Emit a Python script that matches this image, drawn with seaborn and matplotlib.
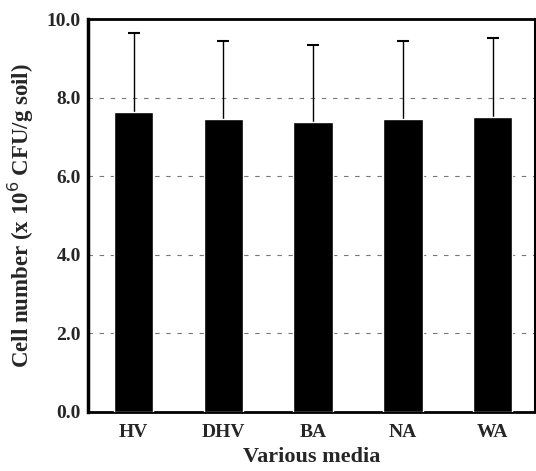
import matplotlib
matplotlib.use("Agg")
import matplotlib.pyplot as plt
import seaborn as sns
import numpy as np
import pandas as pd

media = ["HV", "DHV", "BA", "NA", "WA"]
cell_number = [7.64, 7.47, 7.37, 7.45, 7.52]
sd_upper = [2.02, 1.98, 1.97, 2.00, 2.01]
yticks = [0.0, 2.0, 4.0, 6.0, 8.0, 10.0]

sns.set_theme(style="white")
plt.rcParams['font.family'] = ['Liberation Serif', 'DejaVu Serif']

df = pd.DataFrame({"media": media, "cells": cell_number})

fig = plt.figure(figsize=(5.36, 4.71), dpi=100)
ax = fig.add_axes([0.164, 0.126, 0.834, 0.833])

sns.barplot(data=df, x="media", y="cells", color="black", width=0.44,
            errorbar=None, ax=ax, zorder=3, saturation=1)
xs = np.arange(len(media))
eb = ax.errorbar(xs, cell_number, yerr=[np.zeros(len(media)), sd_upper],
                 fmt="none", ecolor="black", elinewidth=1.0, capsize=4,
                 capthick=1.5, zorder=2)
caplines = eb[1]
if len(caplines) > 1:
    caplines[0].set_visible(False)

ax.set_ylim(0, 10)
ax.set_xlim(-0.51, 4.47)
ax.set_yticks(yticks)
ax.set_yticklabels([f"{t:.1f}" for t in yticks], fontsize=14, fontweight="bold")
ax.set_xticks(xs)
ax.set_xticklabels(media, fontsize=14, fontweight="bold")
for t in yticks[1:-1]:
    ax.axhline(t, color="#777777", linestyle=(0, (4, 6)), linewidth=0.8, zorder=1)

ax.set_xlabel("Various media", fontsize=16, fontweight="bold", labelpad=4)
ax.set_ylabel("Cell number (x 10$^{6}$ CFU/g soil)", fontsize=16.5, fontweight="bold", labelpad=8)
ax.tick_params(axis="x", length=0, pad=9)
ax.tick_params(axis="y", length=0, pad=5)
for s in ax.spines.values():
    s.set_color("black")
    s.set_linewidth(1.5)
ax.spines["left"].set_linewidth(2.5)
ax.spines["bottom"].set_linewidth(2.0)
ax.spines["top"].set_linewidth(2.0)

fig.savefig("out.png", dpi=100)
